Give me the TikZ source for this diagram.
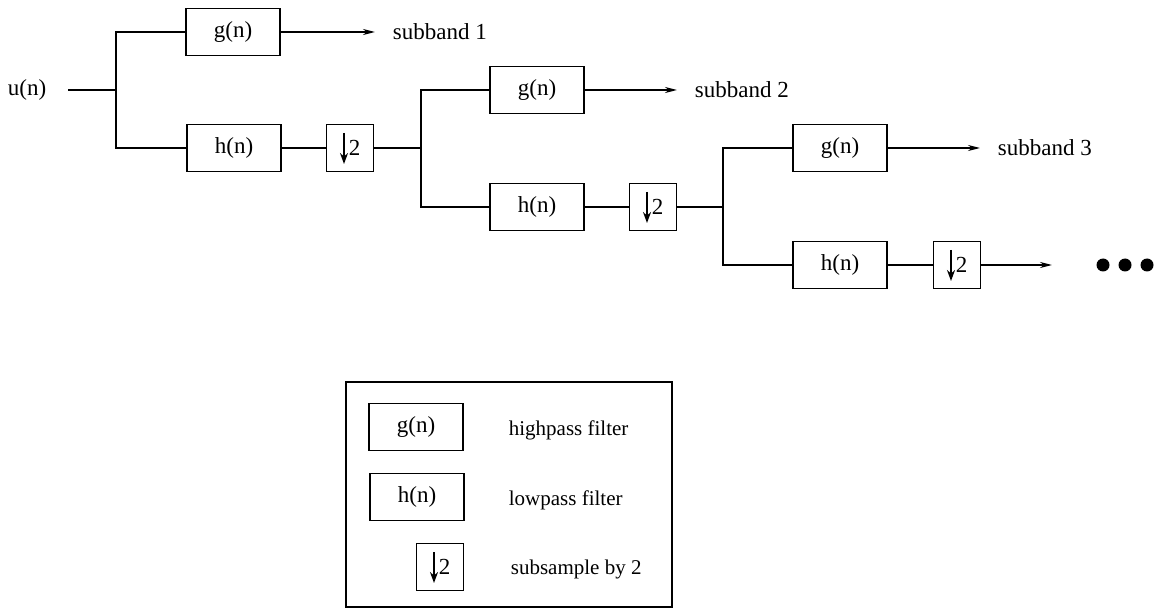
\documentclass[tikz,border=0pt]{standalone}
\usepackage{fontspec}
\setmainfont{Liberation Serif}
\usetikzlibrary{arrows.meta}
\begin{document}
\begin{tikzpicture}[x=1pt,y=-1pt,
  font=\fontsize{23}{26}\selectfont,
  every path/.style={line width=1.7pt},
  filt/.style={draw, line width=1.7pt, minimum width=94pt, minimum height=47pt, inner sep=0pt},
  down/.style={draw, line width=1.7pt, minimum width=47pt, minimum height=47pt, inner sep=0pt,
    path picture={\draw[line width=1.8pt,-{Stealth[length=11pt,width=8pt]}]
      ([xshift=-6pt,yshift=15pt]path picture bounding box.center) -- ++(0pt,-31pt);}},
  lbl/.style={anchor=west, inner sep=0pt},
  leglbl/.style={anchor=west, inner sep=0pt, font=\fontsize{21}{24}\selectfont},
  sig/.style={anchor=west, inner ysep=0pt, inner xsep=17pt},
  arr/.style={-{Stealth[length=12pt,width=6pt]}},
  dot/.style={circle, fill=black, minimum size=13pt, inner sep=0pt}
]
\useasboundingbox (0,0) rectangle (1156,612);
% stage 1
\node[lbl] (u) at (7,90) {u(n)};
\coordinate (u0) at (68,90);
\coordinate (j1) at (116,90);
\node[filt] (g1) at (233,32) {g(n)};
\node[filt] (h1) at (234,148) {h(n)};
\node[down] (d1) at (350,148) {\kern9pt 2};
\node[sig] (s1) at (375,32) {subband 1};
\draw (u0) -- (j1);
\draw (j1) |- (g1.west);
\draw (j1) |- (h1.west);
\draw[arr] (g1.east) -- (s1.west);
\draw (h1.east) -- (d1.west);
% stage 2
\coordinate (j2) at (421,148);
\node[filt] (g2) at (537,90) {g(n)};
\node[filt] (h2) at (537,207) {h(n)};
\node[down] (d2) at (653,207) {\kern9pt 2};
\node[sig] (s2) at (677,90) {subband 2};
\draw (d1.east) -- (j2);
\draw (j2) |- (g2.west);
\draw (j2) |- (h2.west);
\draw[arr] (g2.east) -- (s2.west);
\draw (h2.east) -- (d2.west);
% stage 3
\coordinate (j3) at (723,207);
\node[filt] (g3) at (840,148) {g(n)};
\node[filt] (h3) at (840,265) {h(n)};
\node[down] (d3) at (957,265) {\kern9pt 2};
\node[sig] (s3) at (980,148) {subband 3};
\coordinate (e3) at (1052,265);
\draw (d2.east) -- (j3);
\draw (j3) |- (g3.west);
\draw (j3) |- (h3.west);
\draw[arr] (g3.east) -- (s3.west);
\draw (h3.east) -- (d3.west);
\draw[arr] (d3.east) -- (e3);
\node[dot] (p1) at (1103,265) {};
\node[dot] (p2) at (1125,265) {};
\node[dot] (p3) at (1147,265) {};
% legend
\node[draw, line width=1.5pt, minimum width=326pt, minimum height=225pt] (leg) at (509,494.5) {};
\node[filt] (lg) at (416,427) {g(n)};
\node[filt] (lh) at (417,497) {h(n)};
\node[down] (ld) at (440,567) {\kern9pt 2};
\node[leglbl] (tg) at (508,430) {highpass filter};
\node[leglbl] (th) at (508,500) {lowpass filter};
\node[leglbl] (td) at (510,569) {subsample by 2};
\end{tikzpicture}
\end{document}
